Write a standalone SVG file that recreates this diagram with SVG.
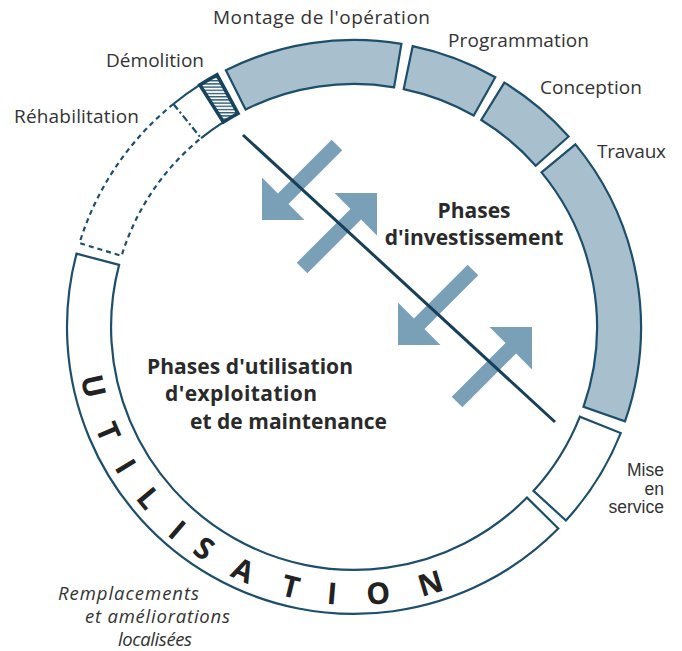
<svg xmlns="http://www.w3.org/2000/svg" width="682" height="651" viewBox="0 0 682 651">
  <style>
    .seg { stroke: #1d4e6b; stroke-width: 2.2; stroke-linejoin: miter; }
    .phase { fill: #a8c0ce; }
    .open { fill: #ffffff; }
    .dash { fill: none; stroke: #1d4e6b; stroke-width: 2.2; stroke-dasharray: 5 4; }
    .dashdot { fill: none; stroke: #1d4e6b; stroke-width: 2.2; stroke-dasharray: 7 3 2 3; }
    .solid { fill: none; stroke: #1d4e6b; stroke-width: 2.2; }
    .lbl { font-family: "Open Sans", "Liberation Sans", sans-serif; font-size: 19px; fill: #333333; }
    .small { font-family: "Liberation Sans", "Open Sans", sans-serif; font-size: 17.5px; fill: #333333; }
    .ital { font-family: "Open Sans", "Liberation Sans", sans-serif; font-size: 18.5px; font-style: italic; fill: #333333; }
    .bold { font-family: "Open Sans", "Liberation Sans", sans-serif; font-weight: 700; fill: #2a2a2a; }
    .ring-letter { font-family: "Open Sans", "Liberation Sans", sans-serif; font-size: 30px; font-weight: 700; fill: #222222; text-anchor: middle; }
    .arrow { fill: #7aa0b8; }
  </style>
  <defs>
    <pattern id="hatch" patternUnits="userSpaceOnUse" width="6" height="3.2">
      <rect width="6" height="3.2" fill="#ffffff"/>
      <rect width="6" height="1.4" fill="#2f5d78"/>
    </pattern>
    <path id="arrowShape" d="M0,0 L-30,-30 L-30,-7.5 L-106,-7.5 L-106,7.5 L-30,7.5 L-30,30 Z"/>
  </defs>

  <!-- Usage phase: the long white band at the bottom of the ring -->
  <g id="utilisation">
    <path class="seg open" d="M558.3,528.5 A287,287 0 0 1 76.5,253.7 L119.1,264.9 A243,243 0 0 0 527.0,497.6 Z"/>
    <!-- spaced capitals set along the band, baseline radius 278 -->
    <g id="utilisation-word">
      <text class="ring-letter" transform="translate(82.9,388.6) rotate(77.2)">U</text>
      <text class="ring-letter" transform="translate(98.3,436.1) rotate(66.9)">T</text>
      <text class="ring-letter" transform="translate(116.7,471.8) rotate(58.6)">I</text>
      <text class="ring-letter" transform="translate(140.4,504.9) rotate(50.2)">L</text>
      <text class="ring-letter" transform="translate(170.2,537.9) rotate(40.6)">I</text>
      <text class="ring-letter" transform="translate(198.0,557.0) rotate(34.0)">S</text>
      <text class="ring-letter" transform="translate(238.7,580.0) rotate(24.5)">A</text>
      <text class="ring-letter" transform="translate(288.2,597.1) rotate(13.7)">T</text>
      <text class="ring-letter" transform="translate(331.2,604.1) rotate(4.7)">I</text>
      <text class="ring-letter" transform="translate(379.2,603.9) rotate(-5.2)">O</text>
      <text class="ring-letter" transform="translate(433.4,593.4) rotate(-16.6)">N</text>
    </g>
  </g>

  <!-- Rehabilitation: dashed band, dash-dot border, then a short solid stretch -->
  <g id="rehabilitation">
    <path class="dash" d="M173.4,104.0 A287,287 0 0 0 79.5,243.1 L121.6,255.9 A243,243 0 0 1 201.1,138.2"/>
    <path class="dashdot" d="M173.4,104.0 L201.1,138.2"/>
    <path class="solid" d="M173.4,104.0 A287,287 0 0 1 199.8,84.9 M201.1,138.2 A243,243 0 0 1 223.4,122.1"/>
    <text class="lbl" x="14" y="123" textLength="125">Réhabilitation</text>
  </g>

  <!-- Demolition: narrow hatched block -->
  <g id="demolition">
    <path d="M199.8,84.9 A287,287 0 0 1 217.0,74.8 L238.0,113.5 A243,243 0 0 0 223.4,122.1 Z" fill="url(#hatch)" stroke="#16435d" stroke-width="3.6" stroke-linejoin="miter"/>
    <text class="lbl" x="106" y="67" textLength="98">Démolition</text>
  </g>

  <g id="montage">
    <path class="seg phase" d="M225.9,70.2 A287,287 0 0 1 401.4,43.9 L394.1,87.3 A243,243 0 0 0 245.6,109.5 Z"/>
    <text class="lbl" x="213" y="24" textLength="217">Montage de l'opération</text>
  </g>

  <g id="programmation">
    <path class="seg phase" d="M412.7,46.1 A287,287 0 0 1 495.3,77.2 L473.7,115.5 A243,243 0 0 0 403.7,89.1 Z"/>
    <text class="lbl" x="448" y="47" textLength="141">Programmation</text>
  </g>

  <g id="conception">
    <path class="seg phase" d="M504.4,82.6 A287,287 0 0 1 568.6,136.5 L535.7,165.7 A243,243 0 0 0 481.3,120.0 Z"/>
    <text class="lbl" x="540" y="94" textLength="102">Conception</text>
  </g>

  <g id="travaux">
    <path class="seg phase" d="M575.4,144.4 A287,287 0 0 1 625.0,421.4 L583.5,406.9 A243,243 0 0 0 541.5,172.4 Z"/>
    <text class="lbl" x="597" y="158" textLength="69">Travaux</text>
  </g>

  <g id="mise-en-service">
    <path class="seg open" d="M620.7,433.1 A287,287 0 0 1 565.9,520.5 L533.5,490.9 A243,243 0 0 0 579.8,416.8 Z"/>
    <text class="small" text-anchor="end"><tspan x="664" y="476">Mise</tspan><tspan x="664" y="494.5">en</tspan><tspan x="664" y="513">service</tspan></text>
  </g>

  <g id="remplacements">
    <text class="ital"><tspan x="58" y="600" textLength="141">Remplacements</tspan><tspan x="85" y="623" textLength="145">et améliorations</tspan><tspan x="118" y="646" textLength="74">localisées</tspan></text>
  </g>

  <g id="phases-investissement">
    <text class="bold" font-size="21" text-anchor="middle"><tspan x="474" y="218">Phases</tspan><tspan x="474" y="245">d'investissement</tspan></text>
  </g>

  <g id="phases-utilisation">
    <text class="bold" font-size="21"><tspan x="147" y="374" textLength="206">Phases d'utilisation</tspan><tspan x="165" y="401" textLength="152">d'exploitation</tspan><tspan x="190" y="428.5" textLength="197">et de maintenance</tspan></text>
  </g>

  <!-- Divider between the two families of phases, with the exchange arrows -->
  <g id="connectors">
    <use href="#arrowShape" class="arrow" transform="translate(262,220) rotate(135)"/>
    <use href="#arrowShape" class="arrow" transform="translate(377,193) rotate(-45)"/>
    <use href="#arrowShape" class="arrow" transform="translate(398,345) rotate(135)"/>
    <use href="#arrowShape" class="arrow" transform="translate(532,327) rotate(-45)"/>
    <line x1="243" y1="135" x2="555" y2="422" stroke="#173f57" stroke-width="3"/>
  </g>
</svg>
